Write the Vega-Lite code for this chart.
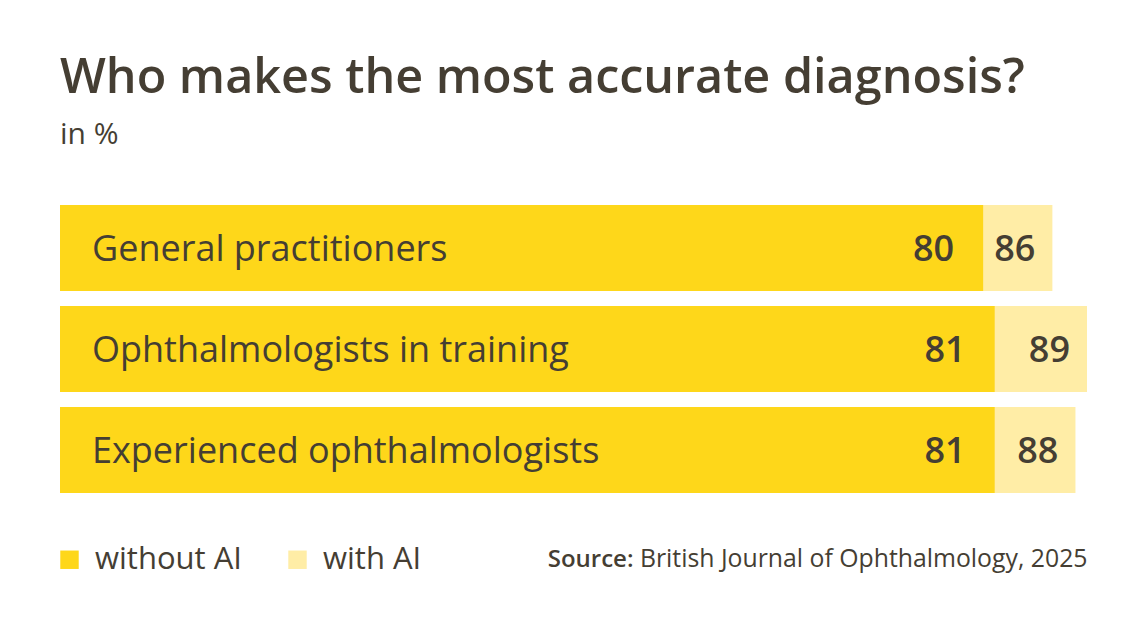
{
  "$schema": "https://vega.github.io/schema/vega-lite/v6.json",
  "width": 1027,
  "height": 288,
  "autosize": {"type": "none"},
  "padding": {"left": 60, "top": 205, "right": 59, "bottom": 133},
  "background": "white",
  "config": {"view": {"stroke": null}},
  "title": {
    "text": "Who makes the most accurate diagnosis?",
    "subtitle": "in %",
    "anchor": "start",
    "frame": "group",
    "font": "Open Sans",
    "fontSize": 48.5,
    "fontWeight": 600,
    "color": "#453e33",
    "subtitleFont": "Open Sans",
    "subtitleFontSize": 30,
    "subtitleColor": "#453e33",
    "subtitlePadding": 17,
    "offset": 54
  },
  "data": {
    "values": [
      {"group": "General practitioners", "type": "with AI", "value": 86},
      {"group": "Ophthalmologists in training", "type": "with AI", "value": 89},
      {"group": "Experienced ophthalmologists", "type": "with AI", "value": 88},
      {"group": "General practitioners", "type": "without AI", "value": 80},
      {"group": "Ophthalmologists in training", "type": "without AI", "value": 81},
      {"group": "Experienced ophthalmologists", "type": "without AI", "value": 81}
    ]
  },
  "encoding": {
    "y": {
      "field": "group",
      "type": "nominal",
      "sort": ["General practitioners", "Ophthalmologists in training", "Experienced ophthalmologists"],
      "scale": {"paddingInner": 0.15, "paddingOuter": 0},
      "axis": {
        "domain": false, "ticks": false, "labels": false, "grid": false,
        "title": "Source:",
        "titleAngle": 0,
        "titleX": 573,
        "titleY": 361,
        "titleAlign": "right",
        "titleBaseline": "alphabetic",
        "titleFont": "Open Sans",
        "titleFontSize": 24,
        "titleFontWeight": 600,
        "titleColor": "#453e33"
      }
    }
  },
  "layer": [
    {
      "mark": {"type": "bar"},
      "encoding": {
        "x": {
          "field": "value",
          "type": "quantitative",
          "stack": null,
          "scale": {"domain": [0, 89], "nice": false, "zero": true},
          "axis": {
            "domain": false, "ticks": false, "labels": false, "grid": false,
            "title": "British Journal of Ophthalmology, 2025",
            "titleAnchor": "end",
            "titleFont": "Open Sans",
            "titleFontSize": 24.8,
            "titleFontWeight": "normal",
            "titleColor": "#453e33",
            "titlePadding": 53
          }
        },
        "color": {
          "field": "type",
          "type": "nominal",
          "scale": {"domain": ["without AI", "with AI"], "range": ["#FED71A", "#FFEDA6"]},
          "legend": {
            "title": null,
            "orient": "none",
            "legendX": -6,
            "legendY": 339,
            "direction": "horizontal",
            "symbolType": "square",
            "symbolSize": 340,
            "symbolStrokeWidth": 0,
            "labelFont": "Open Sans",
            "labelFontSize": 31,
            "labelColor": "#453e33",
            "labelOffset": 10,
            "columnPadding": 40
          }
        }
      }
    },
    {
      "transform": [{"filter": "datum.type === 'without AI'"}],
      "mark": {"type": "text", "align": "left", "baseline": "middle", "dx": 32, "dy": 2, "font": "Open Sans", "fontSize": 36, "color": "#453e33"},
      "encoding": {
        "x": {"datum": 0, "type": "quantitative"},
        "text": {"field": "group"}
      }
    },
    {
      "transform": [{"filter": "datum.type === 'without AI'"}],
      "mark": {"type": "text", "align": "right", "baseline": "middle", "dx": -29, "dy": 2, "font": "Open Sans", "fontSize": 36, "fontWeight": 600, "color": "#453e33"},
      "encoding": {
        "x": {"field": "value", "type": "quantitative"},
        "text": {"field": "value"}
      }
    },
    {
      "transform": [{"filter": "datum.type === 'with AI'"}],
      "mark": {"type": "text", "align": "right", "baseline": "middle", "dx": -17, "dy": 2, "font": "Open Sans", "fontSize": 36, "fontWeight": 600, "color": "#453e33"},
      "encoding": {
        "x": {"field": "value", "type": "quantitative"},
        "text": {"field": "value"}
      }
    }
  ]
}
